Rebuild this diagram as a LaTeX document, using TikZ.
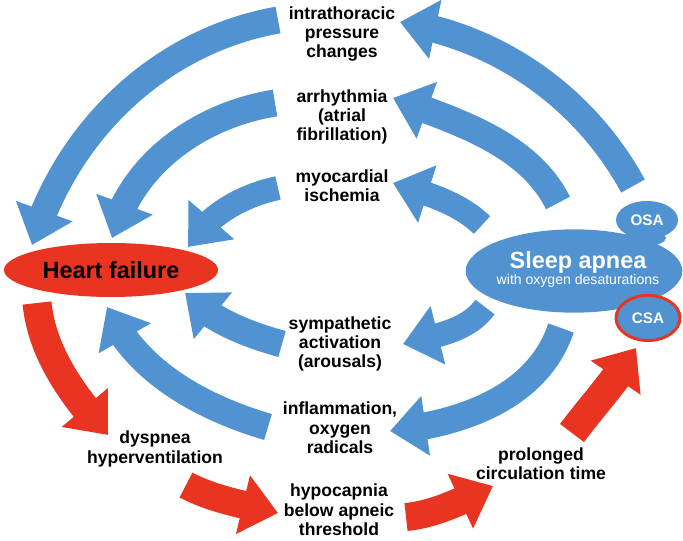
\documentclass[tikz,border=0pt]{standalone}
\usepackage{fontspec}
\setmainfont{Liberation Sans}
\usetikzlibrary{arrows.meta,bending,shapes.geometric}
\definecolor{apblue}{RGB}{80,147,208}
\definecolor{apred}{RGB}{233,52,33}
\begin{document}
\begin{tikzpicture}[x=0.03cm,y=-0.03cm,
  fat/.style={line width=#1*0.03cm,-{Triangle[length=1.08cm,width=1.74cm]}},
  blue arrow/.style={draw=apblue,fat=#1},
  red arrow/.style={draw=apred,fat=#1},
  lbl/.style={align=center,inner sep=0pt,font=\bfseries\fontsize{15}{16.5}\selectfont}]
\useasboundingbox (0,0) rectangle (683,541);

% arrow ends
\coordinate (ol0) at (278,20);   \coordinate (ol1) at (32,245);
\coordinate (ml0) at (275,103);  \coordinate (ml1) at (112,238);
\coordinate (il0) at (278,188);  \coordinate (il1) at (188,247);
\coordinate (or0) at (633,186);  \coordinate (or1) at (400,22);
\coordinate (mr0) at (558,203);  \coordinate (mr1) at (393,98);
\coordinate (ir0) at (482,225);  \coordinate (ir1) at (393,183);
\coordinate (sl0) at (282,344);  \coordinate (sl1) at (185,293);
\coordinate (fl0) at (268,427);  \coordinate (fl1) at (107,307);
\coordinate (sr0) at (485,307);  \coordinate (sr1) at (403,344);
\coordinate (fr0) at (561,328);  \coordinate (fr1) at (390,431);

% sleep apnea -> labels
\draw[blue arrow=27] (or0) .. controls (585,98) and (499,37) .. (or1);
\draw[blue arrow=27] (mr0) .. controls (528,143) and (456,121) .. (mr1);
\draw[blue arrow=24] (ir0) .. controls (458,202) and (425,193) .. (ir1);
\draw[blue arrow=24] (sr0) .. controls (467,332) and (433,336) .. (sr1);
\draw[blue arrow=27] (fr0) .. controls (538,397) and (462,424) .. (fr1);

% labels -> heart failure
\draw[blue arrow=27] (ol0) .. controls (160,41) and (67,130) .. (ol1);
\draw[blue arrow=27] (ml0) .. controls (200,115) and (130,164) .. (ml1);
\draw[blue arrow=24] (il0) .. controls (241,196) and (208,215) .. (il1);
\draw[blue arrow=27] (sl0) .. controls (246,334) and (210,320) .. (sl1);
\draw[blue arrow=27] (fl0) .. controls (200,407) and (134,370) .. (fl1);

% heart failure
\node[ellipse,fill=apred,minimum width=6.42cm,minimum height=1.62cm,inner sep=0pt,
      font=\bfseries\fontsize{20}{22}\selectfont] (hf) at (111,270) {Heart failure};

% sleep apnea
\node[ellipse,fill=apblue,minimum width=6.5cm,minimum height=2.5cm] (sa) at (574,271) {};
\fill[apblue] (645,238) ellipse [x radius=21,y radius=8];
\node[ellipse,fill=apblue,minimum width=1.86cm,minimum height=1.14cm,inner sep=0pt,
      text=white,font=\bfseries\fontsize{13}{15}\selectfont] (osa) at (647,220) {OSA};
\node[ellipse,fill=apblue,draw=apred,line width=2.5pt,minimum width=1.92cm,minimum height=1.35cm,
      inner sep=0pt,text=white,font=\bfseries\fontsize{13}{15}\selectfont] (csa) at (648,318) {CSA};
\node[text=white,inner sep=0pt,font=\bfseries\fontsize{20}{22}\selectfont] (sat) at (578,262) {Sleep apnea};
\node[text=white,inner sep=0pt,font=\fontsize{12}{14}\selectfont] (sao) at (578,281) {with oxygen desaturations};

% vicious circle
\coordinate (r10) at (37,303);  \coordinate (r11) at (108,435);
\coordinate (r20) at (186,485); \coordinate (r21) at (278,513);
\coordinate (r30) at (406,517); \coordinate (r31) at (493,486);
\coordinate (r40) at (572,433); \coordinate (r41) at (636,348);
\draw[red arrow=29] (r10) .. controls (42,354) and (74,397) .. (r11);
\draw[red arrow=28] (r20) .. controls (214,500) and (247,505) .. (r21);
\draw[red arrow=28] (r30) .. controls (437,514) and (465,499) .. (r31);
\draw[red arrow=30] (r40) .. controls (593,405) and (618,378) .. (r41);

% labels
\node[lbl] (intra) at (342,34) {intrathoracic\\pressure\\changes};
\node[lbl] (arrh) at (342,117) {arrhythmia\\(atrial\\fibrillation)};
\node[lbl] (myo) at (342,186) {myocardial\\ischemia};
\node[lbl] (symp) at (340,344) {sympathetic\\activation\\(arousals)};
\node[lbl] (infl) at (340,428) {inflammation,\\oxygen\\radicals};
\node[lbl] (dysp) at (155,449) {dyspnea\\hyperventilation};
\node[lbl] (hypo) at (339,510) {hypocapnia\\below apneic\\threshold};
\node[lbl] (prol) at (541,464) {prolonged\\circulation time};
\end{tikzpicture}
\end{document}
